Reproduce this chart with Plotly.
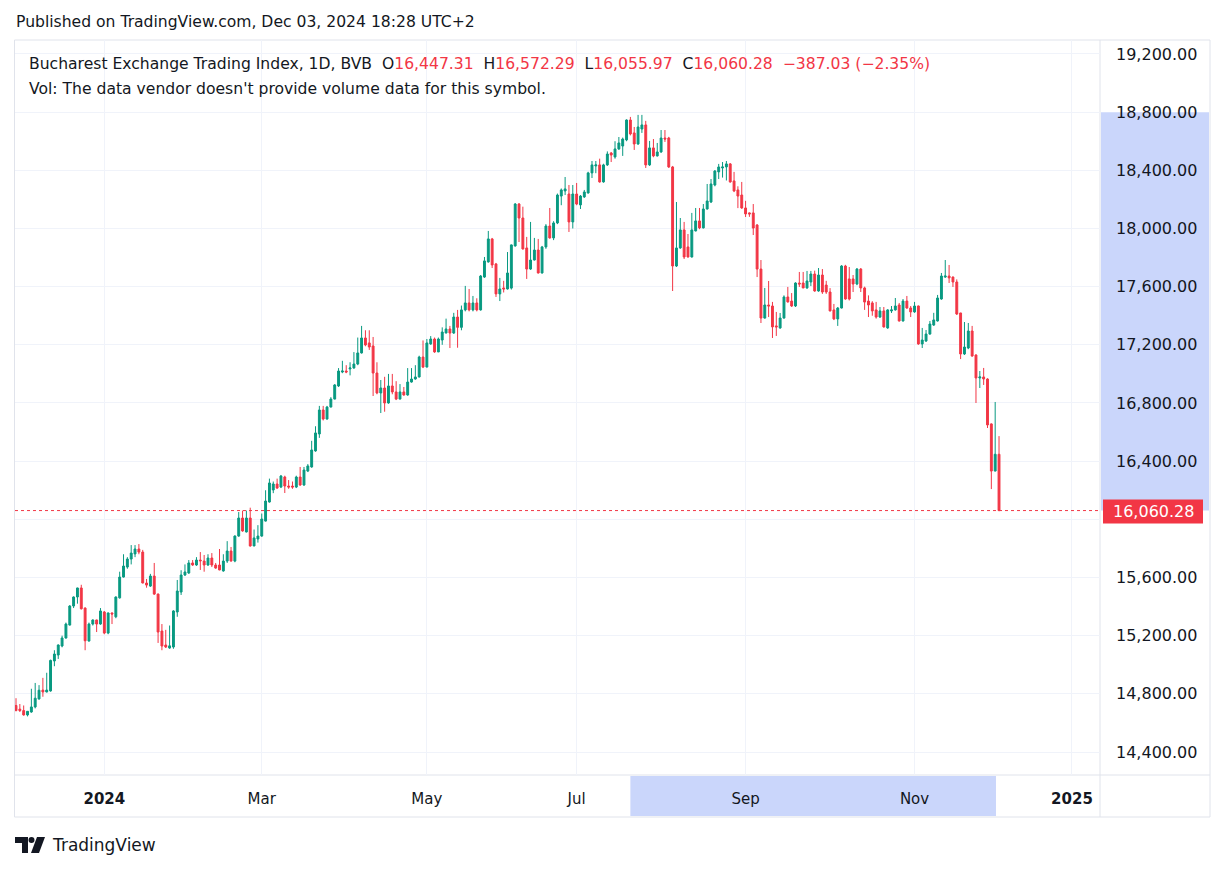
import pandas as pd
import plotly.graph_objects as go

# ---------------- data ----------------
START_DATE = "2023-11-23"
END_DATE = "2024-12-03"
HOLIDAYS = ["2023-11-30", "2023-12-01", "2023-12-25", "2023-12-26",
            "2024-01-01", "2024-01-02", "2024-01-24", "2024-05-01",
            "2024-05-03", "2024-05-06", "2024-06-24", "2024-08-15",
            "2024-12-25", "2024-12-26", "2025-01-01", "2025-01-02"]

open_ = [14720, 14695, 14685, 14655, 14675, 14710, 14765, 14826, 14813, 14820,
         15026, 15067, 15129, 15184, 15273, 15404, 15466, 15528, 15390, 15163,
         15280, 15308, 15280, 15363, 15218, 15356, 15330, 15460, 15603, 15672,
         15727, 15762, 15796, 15775, 15562, 15541, 15610, 15486, 15232, 15136,
         15115, 15122, 15363, 15500, 15617, 15631, 15700, 15686, 15720, 15713,
         15686, 15734, 15686, 15686, 15645, 15713, 15782, 15713, 15885, 16009,
         15913, 16009, 15817, 15865, 15885, 15988, 16119, 16202, 16243, 16222,
         16291, 16229, 16229, 16222, 16291, 16236, 16332, 16360, 16470, 16587,
         16752, 16690, 16772, 16827, 16917, 17013, 17020, 17034, 17041, 17068,
         17144, 17247, 17213, 17192, 17006, 16869, 16903, 16800, 16917, 16876,
         16827, 16876, 16855, 16944, 16965, 16979, 17116, 17047, 17206, 17240,
         17151, 17233, 17281, 17309, 17281, 17391, 17320, 17440, 17488, 17440,
         17488, 17440, 17666, 17770, 17928, 17756, 17550, 17591, 17584, 17590,
         17880, 18168, 18072, 17866, 17721, 17783, 17852, 17694, 17873, 18017,
         17935, 18038, 18223, 18258, 18237, 18045, 18237, 18162, 18217, 18244,
         18382, 18430, 18437, 18320, 18437, 18519, 18492, 18547, 18567, 18609,
         18746, 18657, 18581, 18684, 18712, 18437, 18554, 18499, 18526, 18622,
         18622, 18423, 17742, 17866, 17990, 17873, 17804, 17983, 18052, 18004,
         18134, 18182, 18299, 18389, 18416, 18423, 18444, 18327, 18265, 18230,
         18141, 18107, 18107, 18024, 17721, 17384, 17474, 17467, 17330, 17316,
         17384, 17529, 17501, 17467, 17625, 17625, 17591, 17632, 17687, 17570,
         17680, 17611, 17563, 17440, 17378, 17453, 17742, 17653, 17653, 17618,
         17721, 17591, 17501, 17488, 17440, 17391, 17433, 17316, 17433, 17440,
         17474, 17364, 17501, 17453, 17426, 17467, 17206, 17226, 17274, 17336,
         17364, 17515, 17666, 17673, 17666, 17632, 17419, 17137, 17178, 17295,
         17130, 16972, 16979, 16965, 16656, 16332, 16447.31]

high = [14770, 14730, 14720, 14670, 14835, 14875, 14860, 14910, 14945, 15035,
        15100, 15140, 15200, 15290, 15410, 15470, 15530, 15550, 15395, 15290,
        15312, 15310, 15390, 15370, 15360, 15360, 15470, 15640, 15760, 15740,
        15823, 15823, 15830, 15790, 15590, 15625, 15700, 15490, 15280, 15240,
        15270, 15375, 15583, 15650, 15690, 15720, 15720, 15740, 15775, 15755,
        15760, 15768, 15700, 15796, 15760, 15850, 15810, 15890, 16050, 16060,
        16060, 16080, 15930, 15960, 16040, 16200, 16280, 16260, 16280, 16305,
        16300, 16270, 16260, 16300, 16360, 16360, 16380, 16540, 16640, 16780,
        16780, 16780, 16840, 16930, 17040, 17090, 17060, 17080, 17150, 17250,
        17330, 17300, 17300, 17254, 17080, 16958, 16980, 17000, 17000, 16950,
        16930, 16910, 17040, 17040, 17060, 17125, 17230, 17240, 17260, 17250,
        17250, 17320, 17380, 17330, 17420, 17440, 17470, 17605, 17584, 17536,
        17520, 17680, 17804, 17983, 17935, 17763, 17660, 17640, 17838, 17890,
        18175, 18175, 18150, 17942, 18045, 17935, 17928, 17880, 18030, 18141,
        18050, 18240, 18275, 18354, 18299, 18299, 18313, 18230, 18265, 18390,
        18464, 18464, 18480, 18445, 18530, 18526, 18600, 18629, 18625, 18750,
        18767, 18698, 18781, 18781, 18740, 18602, 18615, 18588, 18677, 18677,
        18630, 18430, 18182, 18072, 18045, 17962, 18107, 18141, 18141, 18168,
        18306, 18340, 18402, 18444, 18457, 18464, 18450, 18389, 18290, 18320,
        18190, 18110, 18168, 18030, 17783, 17591, 17639, 17495, 17426, 17419,
        17540, 17598, 17556, 17630, 17701, 17701, 17708, 17708, 17710, 17728,
        17721, 17640, 17590, 17481, 17460, 17748, 17750, 17735, 17680, 17728,
        17728, 17600, 17540, 17500, 17495, 17460, 17460, 17445, 17467, 17522,
        17488, 17515, 17536, 17467, 17495, 17470, 17316, 17302, 17364, 17420,
        17543, 17694, 17783, 17749, 17670, 17650, 17420, 17357, 17350, 17330,
        17135, 17020, 17041, 16970, 16660, 16807, 16572.29]

low = [14680, 14675, 14650, 14645, 14670, 14700, 14760, 14780, 14810, 14815,
       14990, 15040, 15120, 15180, 15270, 15390, 15420, 15380, 15100, 15160,
       15270, 15225, 15275, 15210, 15210, 15280, 15320, 15455, 15600, 15660,
       15690, 15740, 15760, 15560, 15530, 15535, 15480, 15150, 15100, 15115,
       15110, 15110, 15330, 15480, 15610, 15625, 15680, 15680, 15652, 15640,
       15680, 15672, 15660, 15650, 15640, 15700, 15710, 15705, 15880, 15915,
       15910, 15812, 15815, 15840, 15880, 15985, 16115, 16180, 16210, 16215,
       16181, 16210, 16210, 16215, 16230, 16230, 16325, 16355, 16465, 16560,
       16680, 16685, 16770, 16825, 16910, 17005, 17005, 16990, 17035, 17060,
       17140, 17190, 17165, 16848, 16860, 16731, 16740, 16795, 16860, 16820,
       16825, 16850, 16850, 16940, 16960, 16975, 17040, 17045, 17200, 17145,
       17150, 17200, 17280, 17178, 17275, 17180, 17300, 17430, 17430, 17430,
       17430, 17435, 17660, 17765, 17728, 17529, 17501, 17560, 17580, 17580,
       17875, 17907, 17855, 17653, 17715, 17780, 17690, 17690, 17860, 17930,
       17920, 18030, 18160, 18230, 17976, 18000, 18160, 18134, 18210, 18240,
       18347, 18380, 18315, 18315, 18430, 18457, 18480, 18540, 18499, 18600,
       18640, 18540, 18575, 18657, 18416, 18430, 18490, 18495, 18520, 18595,
       18416, 17570, 17735, 17860, 17790, 17800, 17800, 17980, 17995, 18000,
       18130, 18175, 18290, 18340, 18350, 18330, 18315, 18250, 18140, 18135,
       18079, 18080, 17955, 17666, 17350, 17380, 17391, 17247, 17261, 17310,
       17380, 17490, 17460, 17460, 17598, 17590, 17585, 17604, 17565, 17565,
       17550, 17550, 17430, 17370, 17330, 17450, 17510, 17505, 17563, 17610,
       17563, 17440, 17391, 17400, 17380, 17385, 17318, 17310, 17419, 17435,
       17360, 17360, 17448, 17391, 17420, 17200, 17178, 17220, 17270, 17330,
       17360, 17510, 17660, 17625, 17598, 17405, 17102, 17130, 17170, 17118,
       16800, 16903, 16924, 16628, 16208, 16330, 16055.97]

close = [14685, 14685, 14655, 14680, 14710, 14770, 14825, 14813, 14826, 15030,
         15074, 15136, 15184, 15280, 15404, 15466, 15528, 15385, 15165, 15280,
         15308, 15280, 15370, 15218, 15356, 15349, 15466, 15603, 15679, 15727,
         15768, 15796, 15775, 15562, 15548, 15610, 15486, 15225, 15129, 15122,
         15130, 15370, 15507, 15617, 15638, 15700, 15686, 15720, 15715, 15686,
         15734, 15686, 15665, 15652, 15713, 15782, 15713, 15885, 16009, 15920,
         16009, 15817, 15872, 15885, 16002, 16126, 16250, 16243, 16215, 16298,
         16229, 16222, 16222, 16291, 16236, 16339, 16367, 16477, 16594, 16752,
         16690, 16772, 16827, 16924, 17020, 17020, 17013, 17041, 17068, 17144,
         17247, 17199, 17185, 17006, 16869, 16903, 16800, 16917, 16876, 16827,
         16876, 16855, 16944, 16965, 16979, 17116, 17047, 17213, 17240, 17151,
         17240, 17288, 17309, 17281, 17391, 17320, 17440, 17488, 17440, 17488,
         17440, 17673, 17777, 17928, 17749, 17550, 17584, 17584, 17694, 17887,
         18168, 18072, 17859, 17721, 17783, 17852, 17694, 17873, 18017, 17935,
         18038, 18230, 18265, 18272, 18045, 18237, 18168, 18223, 18251, 18382,
         18437, 18437, 18320, 18437, 18512, 18505, 18547, 18588, 18615, 18746,
         18650, 18581, 18698, 18712, 18437, 18554, 18499, 18526, 18622, 18615,
         18423, 17742, 17866, 17990, 17804, 17804, 17990, 18052, 18004, 18134,
         18189, 18306, 18395, 18423, 18423, 18444, 18320, 18258, 18223, 18141,
         18100, 18100, 18003, 17721, 17384, 17474, 17467, 17323, 17323, 17384,
         17529, 17495, 17467, 17625, 17618, 17591, 17639, 17687, 17570, 17680,
         17563, 17563, 17433, 17378, 17453, 17742, 17515, 17515, 17618, 17721,
         17591, 17494, 17474, 17433, 17391, 17433, 17323, 17440, 17440, 17467,
         17364, 17501, 17453, 17426, 17467, 17206, 17233, 17274, 17343, 17371,
         17522, 17673, 17673, 17660, 17632, 17412, 17137, 17185, 17295, 17123,
         16972, 16979, 16965, 16649, 16332, 16447.31, 16060.28]

month_ticks = ["2024-01-03", "2024-03-01", "2024-05-02", "2024-07-01",
               "2024-09-02", "2024-11-01", "2025-01-03"]
month_labels = ["<b>2024</b>", "Mar", "May", "Jul", "Sep", "Nov", "<b>2025</b>"]
price_ticks = [14400, 14800, 15200, 15600, 16000, 16400, 16800, 17200,
               17600, 18000, 18400, 18800, 19200]
LAST_PRICE = 16060.28
RANGE_TOP = 18800

# ---------------- styling / layout ----------------
GREEN = "#089981"
RED = "#f23645"
TEXT = "#131722"
GRID = "#f0f3fa"
BORDER = "#e0e3eb"
HILITE = "#cad6fb"
FONT = "DejaVu Sans"

OFF = 8                      # page margin of the html body
W, H = 1224 - OFF, 871 - OFF
L, R, T, B = 15, 1100, 40, 775   # plot area in screenshot pixels
PW, PH = R - L, B - T


def px(xp):
    return (xp - L) / PW


def py(yp):
    return (B - yp) / PH


days = pd.bdate_range(START_DATE, END_DATE, freq="C", holidays=HOLIDAYS[:14])
assert len(days) == len(close)
x = days + pd.Timedelta(hours=12)

fig = go.Figure()
fig.add_trace(go.Candlestick(
    x=x, open=open_, high=high, low=low, close=close,
    increasing=dict(line=dict(color=GREEN, width=1), fillcolor=GREEN),
    decreasing=dict(line=dict(color=RED, width=1), fillcolor=RED),
    whiskerwidth=0, showlegend=False, hoverinfo="skip"))

tick_x = [pd.Timestamp(t) + pd.Timedelta(hours=12) for t in month_ticks]
ytext = ["" if v == 16000 else f"{v:,.2f}" for v in price_ticks]

fig.update_layout(
    width=W, height=H,
    margin=dict(l=L - OFF, r=W - (R - OFF), t=T - OFF, b=H - (B - OFF), pad=0),
    paper_bgcolor="white", plot_bgcolor="white",
    font=dict(family=FONT, color=TEXT, size=15),
    xaxis=dict(
        rangeslider=dict(visible=False),
        range=[pd.Timestamp("2023-11-23 05:45"), pd.Timestamp("2025-01-14 19:10")],
        rangebreaks=[dict(bounds=["sat", "mon"]), dict(values=HOLIDAYS)],
        tickmode="array", tickvals=tick_x, ticktext=month_labels,
        showgrid=True, gridcolor=GRID, gridwidth=1,
        zeroline=False, showline=False, ticks="",
        tickfont=dict(size=15, color=TEXT, family=FONT),
        ticklabelstandoff=13,
    ),
    yaxis=dict(
        side="right", range=[14242, 19296],
        tickmode="array", tickvals=price_ticks, ticktext=ytext,
        showgrid=True, gridcolor=GRID, gridwidth=1,
        zeroline=False, showline=False, ticks="",
        tickfont=dict(size=16, color=TEXT, family=FONT),
        ticklabelstandoff=15,
    ),
)

shapes = []
# highlight bands on the axes
shapes.append(dict(type="rect", xref="paper", yref="y", x0=px(1101), x1=px(1209),
                   y0=LAST_PRICE, y1=RANGE_TOP, fillcolor=HILITE, line=dict(width=0),
                   layer="below"))
shapes.append(dict(type="rect", xref="x", yref="paper",
                   x0=x[160], x1=x[-1] - pd.Timedelta(hours=19),
                   y0=py(816), y1=py(776), fillcolor=HILITE, line=dict(width=0),
                   layer="below"))
# panel borders
shapes.append(dict(type="rect", xref="paper", yref="paper", x0=px(14.5), x1=px(1210),
                   y0=py(817), y1=py(40), line=dict(color=BORDER, width=1), layer="below"))
shapes.append(dict(type="line", xref="paper", yref="paper", x0=px(1100), x1=px(1100),
                   y0=py(817), y1=py(40), line=dict(color=BORDER, width=1), layer="below"))
shapes.append(dict(type="line", xref="paper", yref="paper", x0=px(14.5), x1=px(1210),
                   y0=py(775), y1=py(775), line=dict(color=BORDER, width=1), layer="below"))
# last price dotted line
shapes.append(dict(type="line", xref="paper", yref="y", x0=0, x1=1,
                   y0=LAST_PRICE, y1=LAST_PRICE, line=dict(color=RED, width=1, dash="dot")))
# last price label box
shapes.append(dict(type="rect", xref="paper", yref="paper", x0=px(1103), x1=px(1203),
                   y0=py(523.5), y1=py(499.5), fillcolor=RED, line=dict(width=0),
                   layer="above"))


# TradingView logo (simple vector approximation)
def path(points):
    return "M " + " L ".join(f"{px(a):.5f},{py(b):.5f}" for a, b in points) + " Z"


shapes.append(dict(type="path", xref="paper", yref="paper",
                   path=path([(15, 837), (28, 837), (28, 853), (22, 853), (22, 843), (15, 843)]),
                   fillcolor=TEXT, line=dict(width=0)))
shapes.append(dict(type="circle", xref="paper", yref="paper",
                   x0=px(28.5), x1=px(34.5), y0=py(843), y1=py(837),
                   fillcolor=TEXT, line=dict(width=0)))
shapes.append(dict(type="path", xref="paper", yref="paper",
                   path=path([(37, 837), (45, 837), (39, 853), (31, 853)]),
                   fillcolor=TEXT, line=dict(width=0)))
fig.update_layout(shapes=shapes)

NB = "\u00a0"


def val(s):
    return f'<span style="color:{RED}">{s}</span>'


legend_text = ("Bucharest Exchange Trading Index, 1D, BVB" + NB * 2 +
               "O" + val("16,447.31") + NB * 2 + "H" + val("16,572.29") + NB * 2 +
               "L" + val("16,055.97") + NB * 2 + "C" + val("16,060.28") + NB * 2 +
               val("\u2212387.03 (\u22122.35%)"))

ann = [
    dict(text="Published on TradingView.com, Dec 03, 2024 18:28 UTC+2",
         x=px(14), y=py(22), font=dict(size=15.6, color=TEXT)),
    dict(text=legend_text, x=px(27), y=py(64), font=dict(size=15.6, color=TEXT)),
    dict(text="Vol: The data vendor doesn't provide volume data for this symbol.",
         x=px(27), y=py(89), font=dict(size=15.6, color=TEXT)),
    dict(text="16,060.28", x=px(1153), y=py(511.5), xanchor="center",
         font=dict(size=16, color="white")),
    dict(text="TradingView", x=px(50), y=py(845), font=dict(size=17, color=TEXT)),
]
for a in ann:
    a.setdefault("xanchor", "left")
    a.update(xref="paper", yref="paper", yanchor="middle", showarrow=False)
fig.update_layout(annotations=ann)

fig.write_html("out.html")
